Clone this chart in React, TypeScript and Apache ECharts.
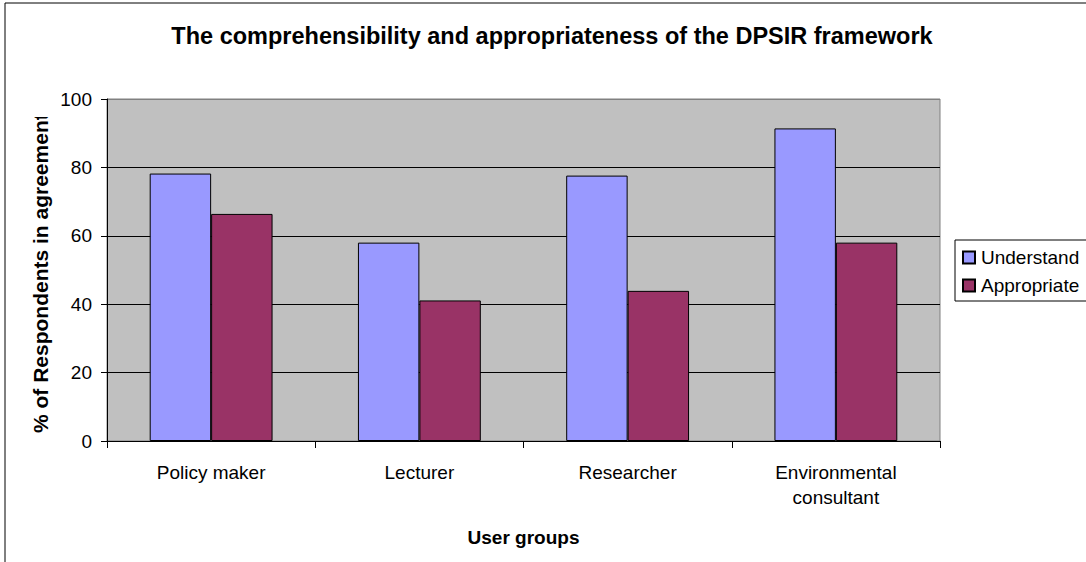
import React, { useEffect, useRef } from "react";
import * as echarts from "echarts";

const categories = ["Policy maker", "Lecturer", "Researcher", "Environmental\nconsultant"];
const understand = [78.2, 58.0, 77.6, 91.4];
const appropriate = [66.4, 41.1, 43.9, 58.0];
const yTicks = [0, 20, 40, 60, 80, 100];

const FONT = "Liberation Sans, Arial, sans-serif";

export default function App() {
  const ref = useRef<HTMLDivElement>(null);
  useEffect(() => {
    if (!ref.current) return;
    const chart = echarts.init(ref.current, undefined, { renderer: "svg" });
    chart.setOption({
      animation: false,
      backgroundColor: "#ffffff",
      textStyle: { fontFamily: FONT },
      title: {
        text: "The comprehensibility and appropriateness of the DPSIR framework",
        left: 547,
        top: 19,
        textAlign: "center",
        textStyle: { fontSize: 23.5, fontWeight: "bold", color: "#000", fontFamily: FONT },
      },
      legend: {
        orient: "vertical",
        left: 955,
        top: 240,
        padding: [8, 20, 6, 7],
        itemGap: 9,
        itemWidth: 12,
        itemHeight: 12,
        borderColor: "#000",
        borderWidth: 1,
        backgroundColor: "#fff",
        icon: "rect",
        textStyle: { fontSize: 19, color: "#000", fontFamily: FONT, padding: [0, 0, 0, 1] },
        data: ["Understand", "Appropriate"],
      },
      grid: {
        left: 107,
        right: 146,
        top: 99,
        bottom: 121,
        show: true,
        backgroundColor: "#C0C0C0",
        borderColor: "#808080",
        borderWidth: 1,
      },
      xAxis: {
        type: "category",
        data: categories,
        axisLine: { lineStyle: { color: "#000", width: 1 } },
        axisTick: { show: true, length: 7, lineStyle: { color: "#000" } },
        axisLabel: { color: "#000", fontSize: 19, margin: 19, lineHeight: 25, fontFamily: FONT },
        name: "User groups",
        nameLocation: "middle",
        nameGap: 96,
        nameTextStyle: { fontSize: 19, fontWeight: "bold", color: "#000", verticalAlign: "middle", fontFamily: FONT },
      },
      yAxis: {
        type: "value",
        min: yTicks[0],
        max: yTicks[yTicks.length - 1],
        interval: 20,
        axisLine: { show: true, lineStyle: { color: "#000", width: 1 } },
        axisTick: { show: true, length: 6, lineStyle: { color: "#000" } },
        axisLabel: { color: "#000", fontSize: 19, margin: 15, fontFamily: FONT },
        splitLine: {
          show: true,
          lineStyle: { color: ["#000", "#000", "#000", "#000", "#000", "#808080"], width: 1 },
        },
      },
      graphic: [
        {
          type: "rect",
          shape: { x: 5, y: 3, width: 1200, height: 700 },
          style: { fill: "none", stroke: "#000", lineWidth: 1 },
          silent: true,
          z: 100,
        },
        {
          type: "text",
          x: 40,
          y: 433,
          rotation: Math.PI / 2,
          style: {
            text: "% of Respondents in agreement",
            fontSize: 21,
            fontWeight: "bold",
            fontFamily: FONT,
            fill: "#000",
            textAlign: "left",
            textVerticalAlign: "middle",
          },
          z: 50,
        },
        {
          type: "rect",
          shape: { x: 20, y: 95, width: 36, height: 22 },
          style: { fill: "#fff" },
          z: 60,
        },
      ],
      series: [
        {
          name: "Understand",
          type: "bar",
          data: understand,
          barGap: "0%",
          barCategoryGap: "41%",
          itemStyle: { color: "#9999FF", borderColor: "#000", borderWidth: 1 },
        },
        {
          name: "Appropriate",
          type: "bar",
          data: appropriate,
          barGap: "0%",
          barCategoryGap: "41%",
          itemStyle: { color: "#993366", borderColor: "#000", borderWidth: 1 },
        },
      ],
    });
    return () => chart.dispose();
  }, []);
  return (
    <div
      ref={ref}
      style={{ position: "fixed", left: 0, top: 0, width: 1086, height: 562 }}
    />
  );
}
